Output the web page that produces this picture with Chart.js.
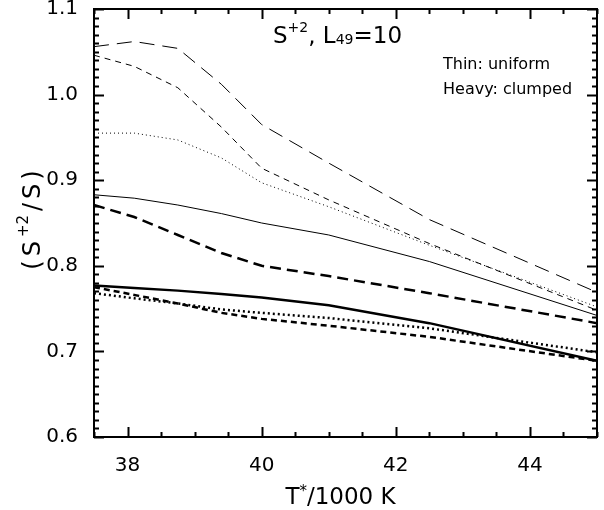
<!DOCTYPE html>
<html>
<head>
<meta charset="utf-8">
<script src="https://cdn.jsdelivr.net/npm/chart.js@4.4.0/dist/chart.umd.min.js"></script>
<style>
  html, body { margin: 0; padding: 0; background: #fff; }
  #wrap { width: 604px; height: 510px; }
</style>
</head>
<body>
<div id="wrap"><canvas id="myChart"></canvas></div>
<script>
// stellar temperature grid (T*/1000 K)
var temps = [37.5, 38.1, 38.75, 39.4, 40, 41, 42.5, 45];

// thin lines: uniform
var thinLong  = [1.056, 1.062, 1.054, 1.012, 0.965, 0.920, 0.854, 0.769];
var thinShort = [1.046, 1.033, 1.008, 0.962, 0.914, 0.877, 0.826, 0.748];
var thinDot   = [0.955, 0.955, 0.947, 0.926, 0.897, 0.869, 0.824, 0.752];
var thinSolid = [0.883, 0.879, 0.871, 0.861, 0.850, 0.836, 0.805, 0.742];

// heavy lines: clumped
var heavyLong  = [0.871, 0.857, 0.836, 0.815, 0.800, 0.788, 0.768, 0.733];
var heavySolid = [0.777, 0.774, 0.771, 0.767, 0.763, 0.754, 0.733, 0.689];
var heavyShort = [0.775, 0.766, 0.756, 0.745, 0.738, 0.730, 0.717, 0.689];
var heavyDot   = [0.768, 0.762, 0.756, 0.749, 0.745, 0.739, 0.727, 0.699];

var xMajor = [38, 40, 42, 44];
var yMajor = [0.6, 0.7, 0.8, 0.9, 1.0, 1.1];

function pts(arr) {
    return temps.map(function(t, i) { return { x: t, y: arr[i] }; });
}

function serie(arr, width, dash) {
    return {
        data: pts(arr),
        borderColor: '#000',
        backgroundColor: '#000',
        borderWidth: width,
        borderDash: dash,
        borderCapStyle: 'butt',
        pointRadius: 0,
        tension: 0,
        fill: false
    };
}

// draw text pieces one after another (for super/subscripts)
function drawPieces(ctx, x, y, pieces, spacing) {
    var cx = x;
    pieces.forEach(function(p) {
        ctx.font = p.size + 'px "DejaVu Sans"';
        ctx.fillText(p.t, cx, y + (p.dy || 0));
        cx += ctx.measureText(p.t).width + (spacing || 0);
    });
}

function piecesWidth(ctx, pieces, spacing) {
    var w = 0;
    pieces.forEach(function(p) {
        ctx.font = p.size + 'px "DejaVu Sans"';
        w += ctx.measureText(p.t).width + (spacing || 0);
    });
    return w - (spacing || 0);
}

var frame = {
    id: 'frame',
    afterDraw: function(chart) {
        var ctx = chart.ctx, a = chart.chartArea;
        var x = chart.scales.x, y = chart.scales.y;
        ctx.save();
        ctx.strokeStyle = '#000';
        ctx.fillStyle = '#000';
        ctx.lineWidth = 2;
        ctx.strokeRect(a.left, a.top, a.right - a.left, a.bottom - a.top);

        // x ticks, inside, top and bottom
        ctx.beginPath();
        for (var i = 0; i <= 15; i++) {
            var v = 37.5 + i * 0.5;
            var px = Math.round(x.getPixelForValue(v)) + 0.5;
            var len = xMajor.indexOf(v) >= 0 ? 10 : 5;
            ctx.moveTo(px, a.bottom); ctx.lineTo(px, a.bottom - len);
            ctx.moveTo(px, a.top); ctx.lineTo(px, a.top + len);
        }
        // y ticks, inside, left and right
        for (var j = 0; j <= 50; j++) {
            var vy = 0.6 + j * 0.01;
            var py = Math.round(y.getPixelForValue(vy)) + 0.5;
            var l2 = (j % 10 === 0) ? 10 : 5;
            ctx.moveTo(a.left, py); ctx.lineTo(a.left + l2, py);
            ctx.moveTo(a.right, py); ctx.lineTo(a.right - l2, py);
        }
        ctx.stroke();

        // title
        ctx.textAlign = 'left';
        ctx.textBaseline = 'alphabetic';
        drawPieces(ctx, 273, 43, [
            { t: 'S', size: 23 },
            { t: '+2', size: 14, dy: -11 },
            { t: ', L', size: 23 },
            { t: '49', size: 14, dy: 1 },
            { t: '=10', size: 23 }
        ]);

        // legend note
        ctx.font = '16px "DejaVu Sans"';
        ctx.fillText('Thin: uniform', 443, 69);
        ctx.fillText('Heavy: clumped', 443, 94);

        // x axis title
        var xt = [
            { t: 'T', size: 23 },
            { t: '*', size: 15, dy: -8 },
            { t: '/1000 K', size: 23 }
        ];
        var cxm = (a.left + a.right) / 2 - 5;
        drawPieces(ctx, cxm - piecesWidth(ctx, xt) / 2, 504, xt);

        // y axis title, rotated
        var yt = [
            { t: '(', size: 24 },
            { t: 'S', size: 24 },
            { t: '+2', size: 15, dy: -12 },
            { t: '/', size: 24 },
            { t: 'S', size: 24 },
            { t: ')', size: 24 }
        ];
        ctx.translate(40, 220);
        ctx.rotate(-Math.PI / 2);
        drawPieces(ctx, -piecesWidth(ctx, yt, 4) / 2, 0, yt, 4);
        ctx.restore();
    }
};

function montarGrafico() {
    var ctx = document.getElementById('myChart').getContext('2d');
    new Chart(ctx, {
        type: 'line',
        data: {
            datasets: [
                serie(thinLong, 1, [15, 8]),
                serie(thinShort, 1, [6, 5]),
                serie(thinDot, 1, [1, 3]),
                serie(thinSolid, 1, []),
                serie(heavyLong, 2.5, [11, 6]),
                serie(heavySolid, 2.5, []),
                serie(heavyShort, 2.5, [6, 4]),
                serie(heavyDot, 2.5, [2, 3])
            ]
        },
        options: {
            responsive: true,
            maintainAspectRatio: false,
            animation: false,
            layout: { padding: { top: 9, right: 7, left: 0, bottom: 0 } },
            plugins: {
                legend: { display: false },
                tooltip: { enabled: false },
                title: { display: false }
            },
            scales: {
                x: {
                    type: 'linear',
                    min: 37.5,
                    max: 45,
                    grid: { display: false },
                    border: { display: false },
                    afterBuildTicks: function(scale) {
                        scale.ticks = xMajor.map(function(v) { return { value: v }; });
                    },
                    afterFit: function(scale) {
                        scale.height = 73;
                        scale.paddingLeft = 0;
                        scale.paddingRight = 0;
                    },
                    ticks: {
                        color: '#000',
                        padding: 9,
                        maxRotation: 0,
                        font: { family: 'DejaVu Sans', size: 20 },
                        callback: function(v) { return String(v); }
                    }
                },
                y: {
                    type: 'linear',
                    min: 0.6,
                    max: 1.1,
                    grid: { display: false },
                    border: { display: false },
                    afterBuildTicks: function(scale) {
                        scale.ticks = yMajor.map(function(v) { return { value: v }; });
                    },
                    afterFit: function(scale) {
                        scale.width = 94;
                        scale.paddingTop = 0;
                        scale.paddingBottom = 0;
                    },
                    ticks: {
                        color: '#000',
                        padding: 8,
                        font: { family: 'DejaVu Sans', size: 20 },
                        callback: function(v) { return v.toFixed(1); }
                    }
                }
            }
        },
        plugins: [frame]
    });
}

montarGrafico();
</script>
</body>
</html>
